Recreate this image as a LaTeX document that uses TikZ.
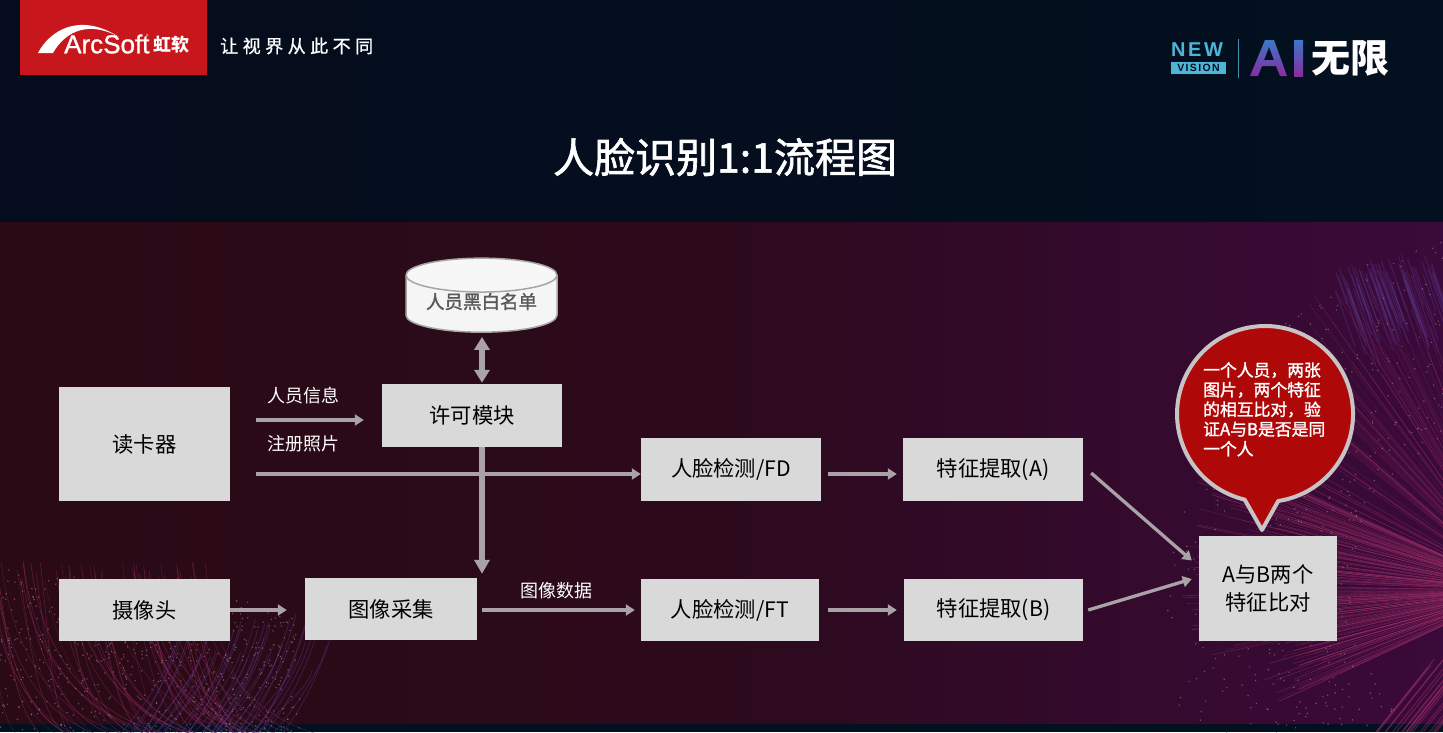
\documentclass[tikz,border=0pt]{standalone}
\usepackage{fontspec}
\usetikzlibrary{shapes.geometric,arrows.meta,calc}
\setmainfont{Noto Sans CJK SC}
\newfontfamily\spaced[LetterSpace=25,FakeBold=1]{Noto Sans CJK SC}
\newfontfamily\medfont[FakeBold=1.5]{Noto Sans CJK SC}
\newfontfamily\latinlogo[FakeBold=1]{Liberation Sans}
\newfontfamily\latinspaced[LetterSpace=13]{Liberation Sans}
\definecolor{navytop}{HTML}{050C1D}
\definecolor{navymid}{HTML}{03101F}
\definecolor{panelL}{HTML}{2A0A14}
\definecolor{panelM}{HTML}{2C0A1C}
\definecolor{panelR}{HTML}{3A0A3A}
\definecolor{boxgray}{HTML}{D9D9D9}
\definecolor{arrowgray}{HTML}{A9A3A8}
\definecolor{fibre}{HTML}{A03068}
\definecolor{fibreb}{HTML}{5A3A90}
\definecolor{speck}{HTML}{A88CA0}
\definecolor{teal}{HTML}{4DB6D6}
\definecolor{logored}{HTML}{C8161D}
\definecolor{bubblered}{HTML}{AE0808}
\definecolor{bubbleedge}{HTML}{C8C4C6}
\definecolor{aitop}{HTML}{3A78C8}
\definecolor{aibot}{HTML}{8A2BA0}
\tikzset{
  x=1pt,y=-1pt,
  flowbox/.style={fill=boxgray,text=black,inner sep=0pt,align=center,font=\fontsize{21.3}{28}\selectfont},
  arrowthin/.style={draw=arrowgray,line width=3.3pt,-{Triangle[length=9pt,width=11pt]}},
  arrowthick/.style={draw=arrowgray,line width=5.3pt,-{Triangle[length=14pt,width=15pt]}},
  arrowboth/.style={draw=arrowgray,line width=5.3pt,{Triangle[length=13pt,width=15pt]}-{Triangle[length=13pt,width=15pt]}},
  flowlabel/.style={text=white,font=\fontsize{18}{22}\selectfont,inner sep=0pt},
}
\begin{document}
\begin{tikzpicture}
\useasboundingbox (0,0) rectangle (1443,732);
% backgrounds
\shade[left color=navytop,right color=navymid] (0,0) rectangle (1443,222);
\shade[left color=panelL,right color=panelR,middle color=panelM] (0,222) rectangle (1443,724);
\fill[navymid] (0,724) rectangle (1443,732);
\pgfmathsetseed{4217}
\begin{scope}
\clip (0,222) rectangle (1443,732);
% right fan of fibres: dense lower part
\foreach \i in {1,...,210}{
  \pgfmathsetmacro\ang{150+rnd*55}
  \pgfmathsetmacro\rad{(230+rnd*110)*(\ang>192?0.8:1)}
  \pgfmathsetmacro\op{0.15+rnd*0.4}
  \draw[fibre,line width=0.6pt,opacity=\op] (1520,590) -- ++({\rad*cos(\ang)},{-\rad*sin(\ang)});
}
% right fan of fibres: sparse upper part
\foreach \i in {1,...,70}{
  \pgfmathsetmacro\ang{108+rnd*42}
  \pgfmathsetmacro\rad{250+rnd*110}
  \pgfmathsetmacro\op{0.12+rnd*0.25}
  \draw[fibre,line width=0.6pt,opacity=\op] (1520,590) -- ++({\rad*cos(\ang)},{-\rad*sin(\ang)});
}
% upper bluish tufts
\foreach \i in {1,...,60}{
  \pgfmathsetmacro\xa{1335+rnd*100}
  \pgfmathsetmacro\ya{250+rnd*30+(1430-\xa)*0.12}
  \pgfmathsetmacro\ln{30+rnd*55}
  \draw[fibreb,line width=1.1pt,opacity=.35] (\xa,\ya) -- ++({\ln*0.35},\ln);
}
% lower corner strokes
\foreach \i in {1,...,22}{
  \pgfmathsetmacro\xa{1375+rnd*75}
  \pgfmathsetmacro\ln{60+rnd*50}
  \draw[fibre,line width=1.2pt,opacity=.4] (\xa,732) -- ++({\ln*0.8},{-\ln});
}
% specks, right
\foreach \i in {1,...,520}{
  \pgfmathsetmacro\ang{100+rnd*125}
  \pgfmathsetmacro\rad{170+rnd*190}
  \fill[speck,opacity=.55] ({1520+\rad*cos(\ang)},{590-\rad*sin(\ang)}) circle[radius=.8pt];
}
% left fibres
\foreach \i in {1,...,60}{
  \pgfmathsetmacro\xa{rnd*230-20}
  \pgfmathsetmacro\dx{30+rnd*110}
  \pgfmathsetmacro\op{0.2+rnd*0.3}
  \draw[fibre,line width=0.6pt,opacity=\op] (\xa,{560+rnd*20}) .. controls (\xa+10,650) and (\xa+\dx*.4,715) .. (\xa+\dx,735);
}
\foreach \i in {1,...,40}{
  \pgfmathsetmacro\xa{110+rnd*180}
  \pgfmathsetmacro\ya{610+rnd*60}
  \draw[fibreb,line width=0.9pt,opacity=.35] (\xa,735) .. controls (\xa+30,700) and (\xa+50,\ya+20) .. (\xa+55,\ya);
}
% specks, left
\foreach \i in {1,...,560}{
  \pgfmathsetmacro\xa{rnd*300}
  \pgfmathsetmacro\ya{732-rnd*(170-\xa*0.16)}
  \fill[speck,opacity=.55] (\xa,\ya) circle[radius=.8pt];
}
\end{scope}
% logo
\fill[logored] (20,0) rectangle (207,75);
\fill[white] (38,53) .. controls (50,30) and (80,12) .. (119,37) .. controls (90,21) and (66,30) .. (53,53) -- cycle;
\node[text=white,anchor=west,inner sep=0pt,font=\latinlogo\fontsize{26}{26}\selectfont] (logotext) at (64,44) {ArcSoft};
\node[text=white,anchor=west,inner sep=0pt,font=\fontsize{5}{5}\selectfont] (logoreg) at (146,37) {®};
\node[text=white,anchor=west,inner sep=0pt,font=\bfseries\fontsize{18}{18}\selectfont] (logocn) at (153,45) {虹软};
\node[text=white,anchor=west,inner sep=0pt,font=\spaced\fontsize{18}{18}\selectfont] (slogan) at (220,46) {让视界从此不同};
% new vision
\node[text=teal,anchor=west,inner sep=0pt,font=\latinspaced\bfseries\fontsize{20}{20}\selectfont] (newword) at (1171,50) {NEW};
\fill[teal] (1171,62) rectangle (1226,74);
\node[text=navytop,inner sep=0pt,font=\latinspaced\bfseries\fontsize{10.5}{10.5}\selectfont] (visionword) at (1198.5,68) {VISION};
\fill[teal!80!black] (1237.5,39) rectangle (1239,78);
\shade[top color=aitop,bottom color=aibot,even odd rule]
  (1250,76) -- (1265,40) -- (1274,40) -- (1287,76) -- (1280,76) -- (1276,66) -- (1262,66) -- (1258,76) -- cycle
  (1269,47) -- (1264,60) -- (1274,60) -- cycle;
\shade[top color=aitop,bottom color=aibot] (1294,40) rectangle (1303,76);
\node[text=white,anchor=west,inner sep=0pt,font=\bfseries\fontsize{39}{39}\selectfont] (wuxian) at (1311,58) {无限};
% title
\node[text=white,inner sep=0pt,font=\medfont\fontsize{41}{41}\selectfont] (title) at (725,157) {人脸识别1:1流程图};
% nodes
\node[flowbox,minimum width=171pt,minimum height=114pt] (reader) at (144.5,444) {读卡器};
\node[flowbox,minimum width=180pt,minimum height=63pt] (permit) at (472,415.5) {许可模块};
\node[flowbox,minimum width=180pt,minimum height=63pt] (fd) at (731,469.5) {\raisebox{-1.5pt}{人脸检测/FD}};
\node[flowbox,minimum width=180pt,minimum height=63pt] (fa) at (993,469.5) {\raisebox{-1.5pt}{特征提取(A)}};
\node[flowbox,minimum width=171pt,minimum height=62pt] (camera) at (144.5,610) {摄像头};
\node[flowbox,minimum width=172pt,minimum height=62pt] (capture) at (391,609) {图像采集};
\node[flowbox,minimum width=178pt,minimum height=62pt] (ft) at (730,610) {人脸检测/FT};
\node[flowbox,minimum width=179pt,minimum height=62pt] (fb) at (993.5,610) {特征提取(B)};
\node[flowbox,minimum width=138pt,minimum height=105pt] (cmp) at (1268,588.5) {A与B两个\\特征比对};
\node[cylinder,shape border rotate=90,aspect=0.305,minimum width=151pt,minimum height=74pt,
  cylinder uses custom fill,cylinder body fill=white!96!black,cylinder end fill=white!97!black,
  draw=gray!70,line width=1.5pt,inner sep=0pt,text=black!65,font=\medfont\fontsize{18.5}{20}\selectfont] (db) at (481.5,304) {\raisebox{6.5pt}{人员黑白名单}};
% labels
\node[flowlabel] (linfo) at (303,396) {人员信息};
\node[flowlabel] (lphoto) at (303,444) {注册照片};
\node[flowlabel] (ldata) at (556,591) {图像数据};
% connectors
\draw[arrowthin] ([xshift=26pt,yshift=24pt]reader.east) -- ([xshift=-18pt,yshift=-4.5pt]permit.west);
\draw[arrowthin] ([xshift=26pt,yshift=-30pt]reader.east) -- ([yshift=-4.5pt]fd.west);
\draw[arrowthick] (permit.south -| 482,0) -- ([yshift=4pt]capture.north -| 482,0);
\draw[arrowboth] ([yshift=-4pt]db.south -| 482,0) -- ([yshift=1pt]permit.north -| 482,0);
\draw[arrowthin] (camera.east) -- ([xshift=-18pt]capture.west |- camera.east);
\draw[arrowthin] ([xshift=5pt,yshift=-1pt]capture.east) -- ([xshift=-6pt]ft.west);
\draw[arrowthin] ([xshift=7pt,yshift=-4.5pt]fd.east) -- ([xshift=-6pt,yshift=-4.5pt]fa.west);
\draw[arrowthin] ([xshift=9pt]ft.east) -- ([xshift=-7pt]fb.west);
\draw[arrowthin] ([xshift=8pt,yshift=-3.5pt]fa.east) -- ([xshift=-7pt,yshift=28pt]cmp.west);
\draw[arrowthin] ([xshift=5pt]fb.east) -- ([xshift=-7pt,yshift=9.5pt]cmp.west);
% bubble
\path[fill=bubblered,draw=bubbleedge,line width=4pt,line join=round]
  (1278.2,501) arc[start angle=-81.4,end angle=256.6,radius=88pt] -- (1262,530) -- cycle;
\node[text=white,inner sep=0pt,anchor=north west,align=left,font=\medfont\fontsize{16.8}{19.7}\selectfont] (note) at (1203,362)
  {一个人员，两张\\图片，两个特征\\的相互比对，验\\证A与B是否是同\\一个人};
\end{tikzpicture}
\end{document}
